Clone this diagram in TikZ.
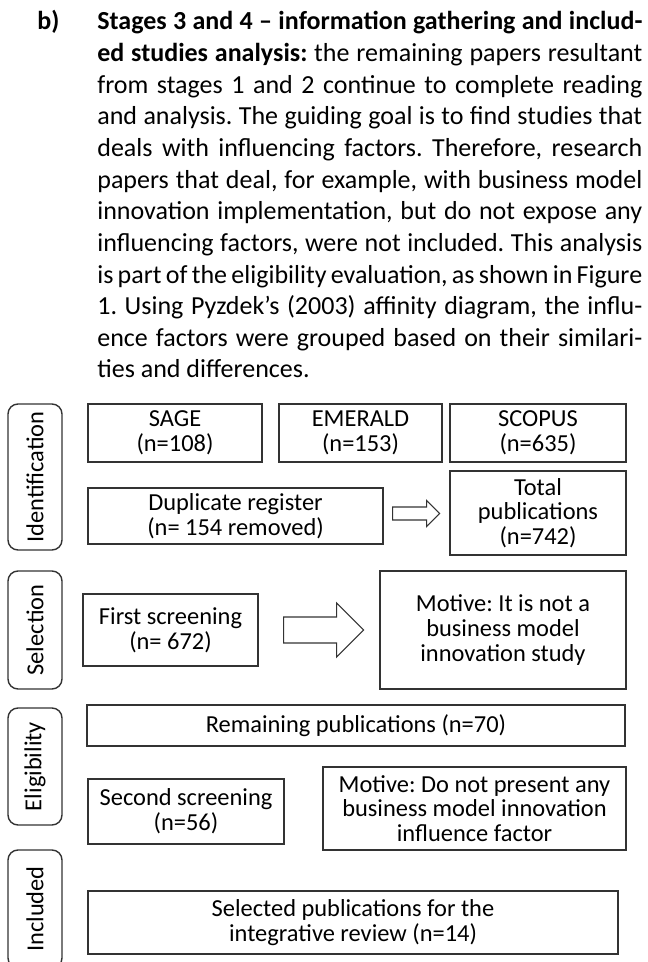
\documentclass[tikz,border=0pt]{standalone}
\usepackage{fontspec}
\setmainfont{Carlito}

\begin{document}
\begin{tikzpicture}[
  box/.style={rectangle,draw=black!80,line width=0.8pt,fill=white,inner sep=1pt,align=center,font=\fontsize{13.9}{14}\selectfont\frenchspacing},
  stage/.style={rectangle,rounded corners=0.2cm,draw=black!80,line width=0.8pt,rotate=90,inner sep=0pt,minimum height=1.08cm,font=\fontsize{13.9}{14}\selectfont},
  blockarrow/.style={draw=black!80,line width=0.6pt,fill=white,line join=miter}]
\useasboundingbox (0,0) rectangle (12.96,19.24);

\node[font=\bfseries\fontsize{14.8}{18}\selectfont,anchor=base west,inner sep=0pt] (LB) at (0.74,18.64) {b)};
\node[font=\fontsize{14.8}{18}\selectfont,anchor=base west,inner sep=0pt] (TX) at (1.94,18.64) {\parbox[t]{10.9cm}{\frenchspacing\hyphenpenalty=10000\exhyphenpenalty=10000
\textbf{Stages 3 and 4 – information gathering and includ-\linebreak ed studies analysis:} the remaining papers resultant\linebreak from stages 1 and 2 continue to complete reading\linebreak and analysis. The guiding goal is to find studies that\linebreak deals with influencing factors. Therefore, research\linebreak papers that deal, for example, with business model\linebreak innovation implementation, but do not expose any\linebreak influencing factors, were not included. This analysis\linebreak is part of the eligibility evaluation, as shown in Figure\linebreak 1. Using Pyzdek’s (2003) affinity diagram, the influ-\linebreak ence factors were grouped based on their similari-\linebreak ties and differences.}};

\node[stage,minimum width=2.92cm] (ID) at (0.70,9.70) {Identification};
\node[stage,minimum width=2.36cm] (SL) at (0.70,6.64) {Selection};
\node[stage,minimum width=2.34cm] (EL) at (0.70,3.91) {Eligibility};
\node[stage,minimum width=2.36cm] (IN) at (0.70,1.06) {Included};

\node[box,minimum width=3.48cm,minimum height=1.16cm] (SA) at (3.50,10.58) {SAGE\\(n=108)};
\node[box,minimum width=3.26cm,minimum height=1.16cm] (EM) at (7.21,10.58) {EMERALD\\(n=153)};
\node[box,minimum width=3.52cm,minimum height=1.16cm] (SC) at (10.76,10.58) {SCOPUS\\(n=635)};
\node[box,minimum width=5.90cm,minimum height=1.12cm] (DU) at (4.71,8.92) {Duplicate register\\(n= 154 removed)};
\node[box,minimum width=3.52cm,minimum height=1.68cm] (TO) at (10.76,8.98) {Total\\publications\\(n=742)};
\draw[blockarrow] ([xshift=0.18cm,yshift=0.05cm]DU.east) ++(0,0.13) -- ++(0.68,0) -- ++(0,0.13) -- ++(0.26,-0.26) -- ++(-0.26,-0.26) -- ++(0,0.13) -- ++(-0.68,0) -- cycle;

\node[box,minimum width=3.50cm,minimum height=1.44cm] (FS) at (3.41,6.64) {First screening\\(n= 672)};
\node[box,minimum width=4.92cm,minimum height=2.36cm] (M1) at (10.06,6.64) {Motive: It is not a\\business model\\innovation study};
\draw[blockarrow] ([xshift=0.50cm]FS.east) ++(0,0.26) -- ++(1.06,0) -- ++(0,0.28) -- ++(0.54,-0.54) -- ++(-0.54,-0.54) -- ++(0,0.28) -- ++(-1.06,0) -- cycle;

\node[box,minimum width=10.76cm,minimum height=0.82cm] (RE) at (7.12,4.73) {Remaining publications (n=70)};
\node[box,minimum width=3.92cm,minimum height=1.30cm] (SS) at (3.72,3.01) {Second screening\\(n=56)};
\node[box,minimum width=6.06cm,minimum height=1.66cm] (M2) at (9.49,3.07) {Motive: Do not present any\\business model innovation\\influence factor};

\node[box,minimum width=10.60cm,minimum height=1.26cm] (SE) at (7.06,0.79) {Selected publications for the\\integrative review (n=14)};

\end{tikzpicture}
\end{document}
